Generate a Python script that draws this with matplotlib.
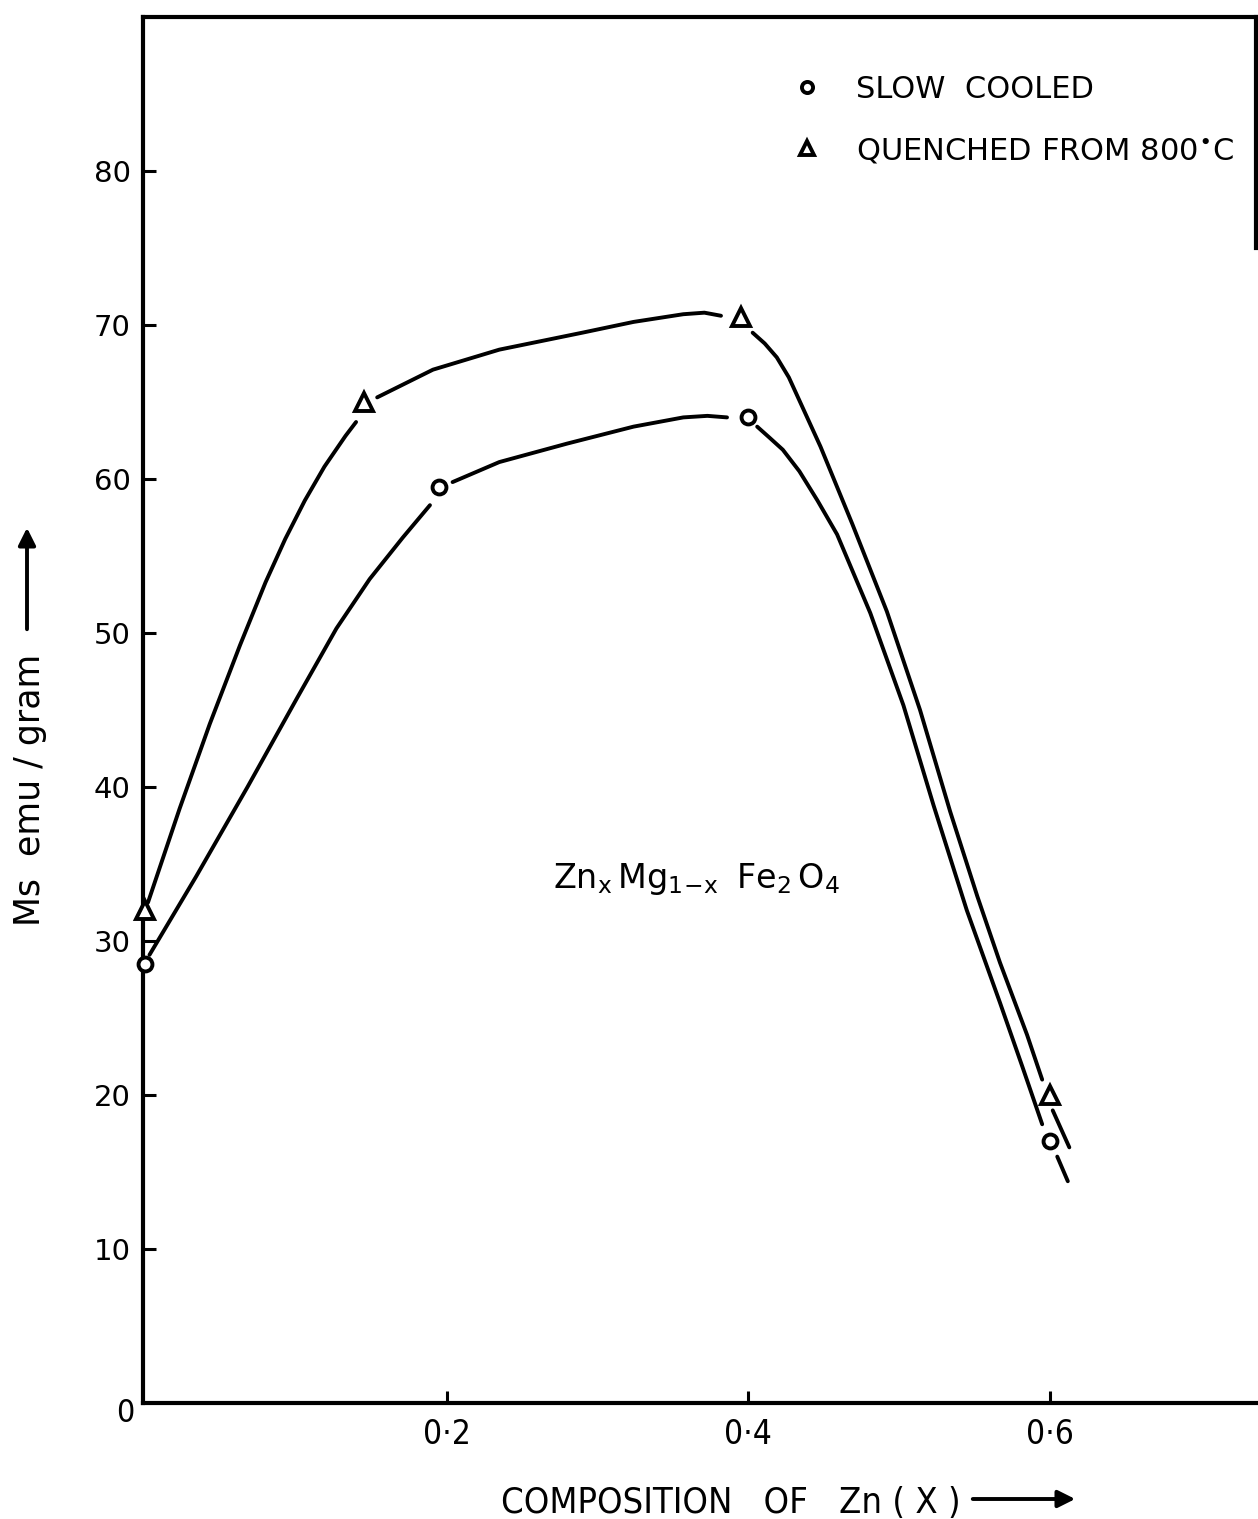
import matplotlib
matplotlib.use("Agg")
import matplotlib.pyplot as plt

# measured points (composition x, Ms in emu/gram)
slow_x = [0.0, 0.195, 0.40, 0.60]
slow_y = [28.5, 59.5, 64.0, 17.0]
quench_x = [0.0, 0.145, 0.395, 0.60]
quench_y = [32.0, 65.0, 70.5, 20.0]

# hand-drawn guide curves
# (the pen is lifted around every marker)
slow_curve_x = [
    [0.003, 0.034, 0.068, 0.101, 0.127, 0.149, 0.171, 0.189],
    [0.204, 0.235, 0.280, 0.324, 0.357, 0.373, 0.386],
    [0.406, 0.414, 0.423, 0.434, 0.446, 0.459, 0.481, 0.503, 0.523, 0.545, 0.567, 0.582, 0.595],
    [0.605, 0.612],
]
slow_curve_y = [
    [29.1, 34.2, 40.0, 45.8, 50.3, 53.5, 56.2, 58.3],
    [59.8, 61.1, 62.3, 63.4, 64.0, 64.1, 64.0],
    [63.4, 62.7, 61.9, 60.5, 58.6, 56.4, 51.3, 45.3, 38.8, 32.0, 26.0, 21.8, 18.1],
    [16.0, 14.4],
]
quench_curve_x = [
    [0.002, 0.023, 0.043, 0.063, 0.080, 0.093, 0.106, 0.119, 0.133, 0.140],
    [0.154, 0.191, 0.235, 0.290, 0.324, 0.357, 0.371, 0.382],
    [0.403, 0.411, 0.419, 0.427, 0.434, 0.448, 0.469, 0.492, 0.514, 0.534, 0.552, 0.567, 0.585, 0.595],
    [0.602, 0.613],
]
quench_curve_y = [
    [32.5, 38.6, 44.1, 49.2, 53.3, 56.1, 58.6, 60.8, 62.8, 63.7],
    [65.3, 67.1, 68.4, 69.5, 70.2, 70.7, 70.8, 70.6],
    [69.5, 68.8, 67.9, 66.6, 65.1, 62.1, 57.1, 51.4, 45.0, 38.4, 32.9, 28.6, 23.9, 21.0],
    [19.0, 16.6],
]

y_ticks = [10, 20, 30, 40, 50, 60, 70, 80]
x_ticks = [0.2, 0.4, 0.6]
x_tick_labels = ["0\u00b72", "0\u00b74", "0\u00b76"]


def Plotter():
    W, H = 1258, 1519
    fig = plt.figure(figsize=(W / 100, H / 100), dpi=100)
    ax = fig.add_axes([143 / W, 1 - 1403 / H, (1256 - 143) / W, (1403 - 17) / H])

    for cx, cy in zip(slow_curve_x, slow_curve_y):
        ax.plot(cx, cy, color='black', lw=2.8, solid_capstyle='round', solid_joinstyle='round')
    for cx, cy in zip(quench_curve_x, quench_curve_y):
        ax.plot(cx, cy, color='black', lw=2.8, solid_capstyle='round', solid_joinstyle='round')

    h1, = ax.plot(slow_x, slow_y, ls='none', marker='o', ms=10, mew=2.8,
                  mfc='white', mec='black', label='SLOW  COOLED', clip_on=False, zorder=5)
    h2, = ax.plot(quench_x, quench_y, ls='none', marker='^', ms=12.5, mew=2.8,
                  mfc='white', mec='black', label='QUENCHED FROM 800$^{\\bullet}$C',
                  clip_on=False, zorder=5)

    ax.set_xlim(-0.0013, 0.7368)
    ax.set_ylim(0, 90)

    for s in ax.spines.values():
        s.set_linewidth(3)
    ax.spines['right'].set_bounds(75, 90)

    ax.set_yticks(y_ticks)
    ax.set_yticklabels([str(v) for v in y_ticks])
    ax.set_xticks(x_ticks)
    ax.set_xticklabels(x_tick_labels, fontstretch='condensed')
    ax.tick_params(axis='both', direction='in', length=9, width=2.2)
    ax.tick_params(axis='y', pad=9, labelsize=21)
    ax.tick_params(axis='x', pad=11, labelsize=24)
    ax.annotate('0', xy=(0, 0), xytext=(-20, -11), textcoords='offset pixels',
                ha='center', va='center', fontsize=23, fontstretch='condensed')

    ax.text(0.366, 34.0, r'$\mathregular{Zn_{x}\,Mg_{1\!-\!x}\;\;Fe_{2}\,O_{4}}$',
            ha='center', va='center', fontsize=24)

    ax.legend(handles=[h1, h2], loc='upper left', frameon=False, fontsize=22,
              bbox_to_anchor=(792 / W, 1 - 75 / H), bbox_transform=fig.transFigure,
              handlelength=1.0, handletextpad=1.1, labelspacing=1.05,
              borderpad=0, borderaxespad=0, markerscale=0.8)

    fig.text(30 / W, 1 - 790 / H, 'Ms  emu / gram', rotation=90,
             ha='center', va='center', fontsize=25)
    fig.text(731 / W, 1 - 1503 / H, 'COMPOSITION   OF   Zn ( X )',
             ha='center', va='center', fontsize=26, fontstretch='condensed')

    arrow = dict(arrowstyle='-|>', lw=2.8, color='black', mutation_scale=26)
    ax.annotate('', xy=(27 / W, 1 - 525 / H), xytext=(27 / W, 1 - 632 / H),
                xycoords='figure fraction', textcoords='figure fraction',
                arrowprops=arrow, annotation_clip=False)
    ax.annotate('', xy=(1078 / W, 1 - 1499 / H), xytext=(970 / W, 1 - 1499 / H),
                xycoords='figure fraction', textcoords='figure fraction',
                arrowprops=arrow, annotation_clip=False)

    fig.savefig('out.png', dpi=100)


if __name__ == '__main__':
    Plotter()
